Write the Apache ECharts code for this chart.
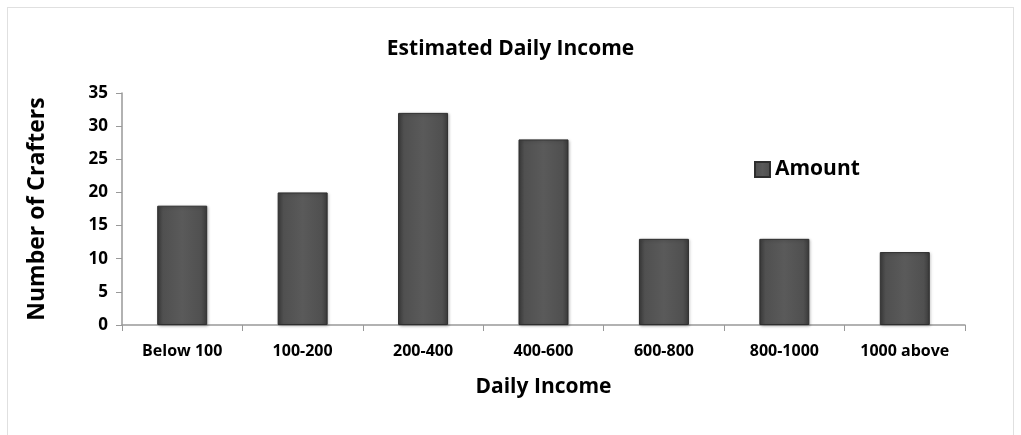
<!DOCTYPE html>
<html><head><meta charset="utf-8">
<script src="https://cdn.jsdelivr.net/npm/echarts@6/dist/echarts.min.js"></script>
<style>
html,body{margin:0;padding:0;background:#fff;}
#frame{position:absolute;left:7px;top:7px;width:1007px;height:430px;border:1px solid #e0e0e0;box-sizing:border-box;}
#c{position:absolute;left:0;top:0;width:1021px;height:435px;}
</style></head>
<body><div id="frame"></div><div id="c"></div>
<script>
const categories = ['Below 100','100-200','200-400','400-600','600-800','800-1000','1000 above'];
const amounts = [18, 20, 32, 28, 13, 13, 11];
const yTicks = {min: 0, max: 35, interval: 5};
const FONT = '"Open Sans", "DejaVu Sans", sans-serif';
const chart = echarts.init(document.getElementById('c'), null, {renderer:'canvas'});
const barColor = new echarts.graphic.LinearGradient(0,0,1,0,[
  {offset:0,color:'#3c3c3c'},{offset:0.12,color:'#505050'},{offset:0.5,color:'#5a5a5a'},{offset:0.88,color:'#505050'},{offset:1,color:'#3a3a3a'}]);
chart.setOption({
  animation:false,
  title:{text:'Estimated Daily Income',left:'center',top:34,textStyle:{fontFamily:FONT,fontWeight:'bold',fontSize:21,color:'#000'}},
  legend:{data:['Amount'],left:749,top:154,icon:'rect',itemWidth:15,itemHeight:15,itemGap:5,textStyle:{fontFamily:FONT,fontWeight:'bold',fontSize:21,color:'#000'}},
  grid:{left:122,right:56,top:93,bottom:110},
  xAxis:{type:'category',data:categories,name:'Daily Income',nameLocation:'middle',nameGap:52,
    nameTextStyle:{fontFamily:FONT,fontWeight:'bold',fontSize:21,color:'#000'},
    axisLine:{lineStyle:{color:'#999',width:1.5}},axisTick:{show:true,alignWithLabel:false,interval:0,length:6,lineStyle:{color:'#999'}},
    axisLabel:{interval:0,fontFamily:FONT,fontWeight:'bold',fontSize:16,color:'#000',margin:18}},
  yAxis:{type:'value',min:yTicks.min,max:yTicks.max,interval:yTicks.interval,name:'Number of Crafters',nameLocation:'middle',nameGap:73,
    nameTextStyle:{fontFamily:FONT,fontWeight:'bold',fontSize:23,color:'#000'},
    axisLine:{show:true,lineStyle:{color:'#999',width:1.5}},axisTick:{show:true,length:6,lineStyle:{color:'#999'}},
    splitLine:{show:false},
    axisLabel:{fontFamily:FONT,fontWeight:'bold',fontSize:17,color:'#000',margin:14}},
  series:[{name:'Amount',type:'bar',data:amounts,barWidth:50,
    itemStyle:{color:barColor,borderColor:'#2e2e2e',borderWidth:1,shadowColor:'rgba(0,0,0,0.25)',shadowBlur:3,shadowOffsetX:1,shadowOffsetY:1}}]
});
</script></body></html>
